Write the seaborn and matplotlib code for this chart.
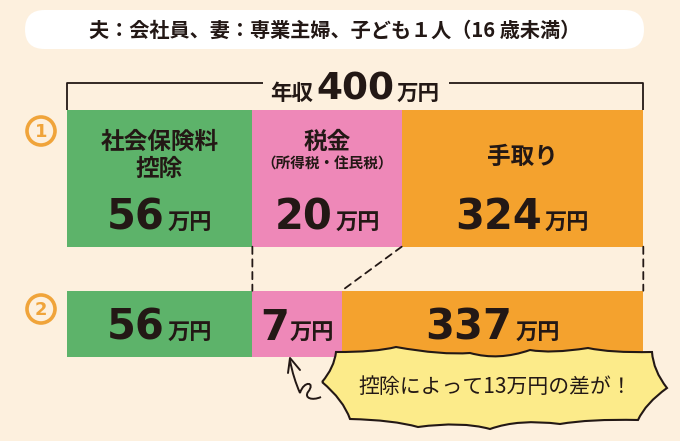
import numpy as np
import matplotlib
matplotlib.use("Agg")
import matplotlib.pyplot as plt
import seaborn as sns
from matplotlib.patches import FancyBboxPatch, Circle, PathPatch, ConnectionPatch
from matplotlib.path import Path

# data (万円)
segments = ["社会保険料控除", "税金", "手取り"]
amount_1 = [56, 20, 324]
amount_2 = [56, 7, 337]
income = 400
# segment lengths as drawn in the picture (% of bar, not to scale)
drawn_1 = [32.2, 25.9, 41.9]
drawn_2 = [32.2, 15.5, 52.3]

BG = "#FDF0DE"
INK = "#231815"
ORANGE_MARK = "#F0A43A"
colors = ["#5DB36A", "#EE88B8", "#F4A22E"]
CJK = ["Noto Sans CJK JP", "DejaVu Sans"]
NUM = ["DejaVu Sans"]

sns.set_theme(style="white")
plt.rcParams["font.family"] = CJK

W, H = 680, 441
fig = plt.figure(figsize=(6.8, 4.41), dpi=100)
fig.patch.set_facecolor(BG)


def px_axes(x0, y0, x1, y1):
    return fig.add_axes([x0 / W, 1 - y1 / H, (x1 - x0) / W, (y1 - y0) / H])


ax1 = px_axes(66.7, 110, 643.3, 246.7)
ax2 = px_axes(66.7, 290.7, 643.3, 357.3)

# overlay in pixel coords (top-left origin), on top of bars
over = fig.add_axes([0, 0, 1, 1], zorder=5)
over.set_xlim(0, W)
over.set_ylim(H, 0)
over.axis("off")
over.patch.set_alpha(0)


def draw_bar(ax, drawn):
    cum = np.cumsum(drawn)
    for i in reversed(range(len(drawn))):
        sns.barplot(x=[cum[i]], y=[0], orient="h", color=colors[i], width=1,
                    saturation=1, linewidth=0, ax=ax)
    ax.set_xlim(0, cum[-1])
    ax.set_ylim(0.5, -0.5)
    ax.axis("off")
    ax.patch.set_alpha(0)


draw_bar(ax1, drawn_1)
draw_bar(ax2, drawn_2)

renderer = fig.canvas.get_renderer()


def to_px(ax, x, y):
    disp = ax.transData.transform((x, y))
    return over.transData.inverted().transform(disp)


def seg_center(ax, drawn, i):
    cum = np.cumsum(drawn)
    return to_px(ax, cum[i] - drawn[i] / 2, 0)[0]


def compose(xc, yb, parts, gap=4):
    # parts: (text, size, family)
    ts = [over.text(0, yb, s, fontsize=fs, fontweight="bold", family=fam,
                    ha="left", va="baseline", color=INK) for s, fs, fam in parts]
    ws = [t.get_window_extent(renderer).width for t in ts]
    total = sum(ws) + gap * (len(ts) - 1)
    x = xc - total / 2
    for t, w in zip(ts, ws):
        t.set_x(x)
        x += w + gap
    return xc - total / 2, xc + total / 2


# top condition box
over.add_patch(FancyBboxPatch((25, 10), 619, 39, boxstyle="round,pad=0,rounding_size=19.5",
                              facecolor="white", edgecolor="none"))
over.text(334.5, 30.5, "夫：会社員、妻：専業主婦、子ども１人（16 歳未満）", fontsize=14.5,
          fontweight="bold", ha="center", va="center", color=INK)

# income bracket
left_px = to_px(ax1, 0, 0)[0]
right_px = to_px(ax1, sum(drawn_1), 0)[0]
mid_px = (left_px + right_px) / 2
l0, l1 = compose(mid_px, 100, [("年収", 15.5, CJK), (str(income), 27, NUM), ("万円", 15.5, CJK)], gap=3)
over.plot([left_px, left_px, l0 - 7], [110, 83, 83], color=INK, lw=1.3, solid_capstyle="butt")
over.plot([l1 + 9, right_px, right_px], [83, 83, 110], color=INK, lw=1.3, solid_capstyle="butt")

# circled row numbers
for (cx, cy), n in [((41, 131), "1"), ((41, 309), "2")]:
    over.add_patch(Circle((cx, cy), 14, fill=False, edgecolor=ORANGE_MARK, lw=2.6))
    over.text(cx, cy + 1, n, fontsize=13, fontweight="bold", family=NUM,
              ha="center", va="center", color=ORANGE_MARK)

# row 1 labels
c = [seg_center(ax1, drawn_1, i) for i in range(3)]
over.text(c[0], 142, "社会保険料", fontsize=17, fontweight="bold", ha="center", va="center", color=INK)
over.text(c[0], 169, "控除", fontsize=17, fontweight="bold", ha="center", va="center", color=INK)
over.text(c[1], 142, "税金", fontsize=17, fontweight="bold", ha="center", va="center", color=INK)
over.text(c[1], 164, "（所得税・住民税）", fontsize=10.5, fontweight="bold", ha="center", va="center", color=INK)
over.text(c[2], 157, "手取り", fontsize=17, fontweight="bold", ha="center", va="center", color=INK)
for i in range(3):
    compose(c[i], 230, [(str(amount_1[i]), 30, NUM), ("万円", 16, CJK)], gap=3)

# row 2 labels
c2 = [seg_center(ax2, drawn_2, i) for i in range(3)]
for i in range(3):
    compose(c2[i], 340, [(str(amount_2[i]), 30, NUM), ("万円", 16, CJK)], gap=1 if i == 1 else 3)

# dashed connectors between the bars
cum1, cum2 = np.cumsum(drawn_1), np.cumsum(drawn_2)
for a, b in zip(cum1, cum2):
    con = ConnectionPatch((a, 0.5), (b, -0.5), coordsA=ax1.transData, coordsB=ax2.transData,
                          color=INK, lw=1.3, linestyle=(0, (4, 3)))
    fig.add_artist(con)

# burst callout
cusps = [(322, 382), (336, 352), (396, 347), (470, 353), (530, 350), (588, 348), (652, 352),
         (667, 388), (638, 420), (560, 424), (490, 429), (418, 427), (350, 419)]
center = np.array([495.0, 388.0])
verts, codes = [cusps[0]], [Path.MOVETO]
for k in range(len(cusps)):
    p, q = np.array(cusps[k]), np.array(cusps[(k + 1) % len(cusps)])
    mid = (p + q) / 2
    d = center - mid
    ctrl = mid + d / np.linalg.norm(d) * min(10, 0.16 * np.linalg.norm(q - p))
    verts += [tuple(ctrl), tuple(q)]
    codes += [Path.CURVE3, Path.CURVE3]
over.add_patch(PathPatch(Path(verts, codes), facecolor="#FCEB8A", edgecolor=INK, lw=1.5))
over.text(495, 387, "控除によって13万円の差が！", fontsize=15, ha="center", va="center", color=INK)

# hand-drawn arrow pointing at the tax segment
arrow = Path([(290, 360), (292, 372), (296, 384), (300, 393),
              (304, 380), (316, 382), (308, 392),
              (304, 398), (312, 401), (321, 397)],
             [Path.MOVETO, Path.CURVE4, Path.CURVE4, Path.CURVE4,
              Path.CURVE4, Path.CURVE4, Path.CURVE4,
              Path.CURVE4, Path.CURVE4, Path.CURVE4])
over.add_patch(PathPatch(arrow, facecolor="none", edgecolor=INK, lw=1.4))
over.plot([288, 290, 300], [373, 358, 370], color=INK, lw=1.4)

fig.savefig("out.png", dpi=100, facecolor=BG)
